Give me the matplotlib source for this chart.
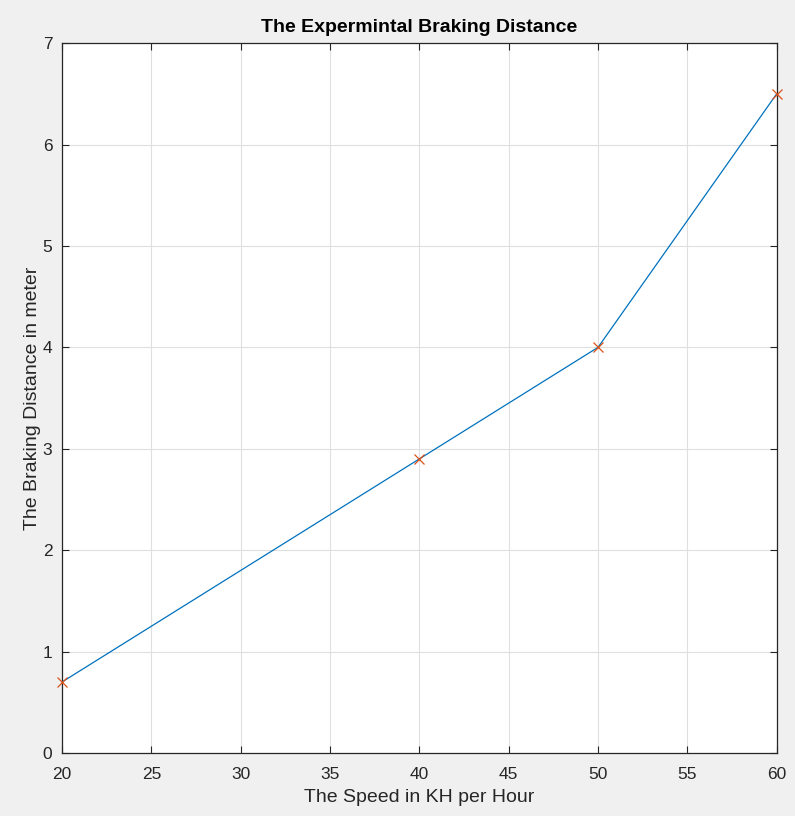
import matplotlib
matplotlib.use("Agg")
import matplotlib.pyplot as plt

speed = [20, 40, 50, 60]
distance = [0.7, 2.9, 4.0, 6.5]
x_ticks = [20, 25, 30, 35, 40, 45, 50, 55, 60]
y_ticks = [0, 1, 2, 3, 4, 5, 6, 7]

plt.rcParams['font.family'] = ['Liberation Sans', 'DejaVu Sans']

fig = plt.figure(figsize=(7.95, 8.16), dpi=100, facecolor='#f0f0f0')
ax = fig.add_axes([0.078, 0.0772, 0.899, 0.870])

ax.plot(speed, distance, color='#0072BD', linewidth=0.9, zorder=3)
ax.plot(speed, distance, linestyle='none', marker='x', color='#D95319',
        markersize=7, markeredgewidth=0.9, zorder=4, clip_on=False)

ax.set_xlim(20, 60)
ax.set_ylim(0, 7)
ax.set_xticks(x_ticks)
ax.set_yticks(y_ticks)
ax.grid(True, color='#dfdfdf', linewidth=0.8)
ax.set_axisbelow(True)

for s in ax.spines.values():
    s.set_color('#262626')
    s.set_linewidth(0.9)
ax.tick_params(direction='in', top=True, right=True, length=5,
               color='#262626', labelcolor='#262626', labelsize=12.5)
ax.tick_params(axis='x', pad=10)
ax.tick_params(axis='y', pad=7)

ax.set_xlabel("The Speed in KH per Hour", fontsize=14, color='#262626', labelpad=5)
ax.set_ylabel("The Braking Distance in meter", fontsize=14, color='#262626', labelpad=1)
ax.set_title("The Expermintal Braking Distance", fontsize=14,
             fontweight='bold', color='black', pad=8)

fig.savefig('out.png', dpi=100, facecolor=fig.get_facecolor())
